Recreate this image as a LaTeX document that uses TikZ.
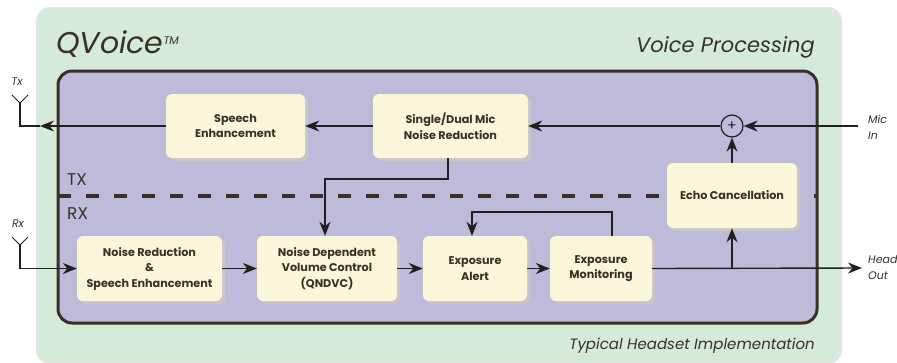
\documentclass[tikz,border=0pt]{standalone}
\usepackage{fontspec}
\setmainfont{Poppins}
\usetikzlibrary{arrows.meta,shadows}
\definecolor{greenbg}{HTML}{D4EBDA}
\definecolor{greyedge}{HTML}{E2E4E3}
\definecolor{purplebg}{HTML}{BEBBDA}
\definecolor{brownc}{HTML}{3B2F27}
\definecolor{creamc}{HTML}{FAF6DA}
\definecolor{shadc}{HTML}{C9C6C2}
\definecolor{linec}{HTML}{231F20}
\tikzset{
  blk/.style={fill=creamc, rounded corners=6pt, inner sep=0pt, align=center,
    text=brownc, font=\fontsize{11.2}{15.5}\selectfont\bfseries,
    drop shadow={shadow xshift=3pt, shadow yshift=-3pt, fill=shadc, opacity=1}},
  conn/.style={draw=linec, line width=1.4pt},
  arr/.style={conn, -{Stealth[length=14pt,width=11pt,inset=4.5pt]}},
  lbl/.style={text=brownc, font=\fontsize{11}{16}\selectfont\itshape, inner sep=0pt},
}
\begin{document}
\begin{tikzpicture}[x=1pt,y=-1pt]
\useasboundingbox (0,0) rectangle (897,362);
% outer panel
\fill[greyedge, rounded corners=14pt] (36,7) rectangle (842,364);
\fill[greenbg, rounded corners=13pt] (38,9) rectangle (838,362);
% inner panel
\draw[fill=purplebg, draw=brownc, line width=3pt, rounded corners=14pt] (58,71) rectangle (817,323);
% dashed TX/RX divider
\draw[brownc, line width=4pt, dash pattern=on 13pt off 15pt] (58,196) -- (817,196);
\node[anchor=west, text=brownc, font=\fontsize{17}{17}\selectfont, inner sep=0pt] (tx) at (67,180) {TX};
\node[anchor=west, text=brownc, font=\fontsize{17}{17}\selectfont, inner sep=0pt] (rx) at (67,214) {RX};
% titles
\node[anchor=west, text=brownc, font=\fontsize{30}{30}\selectfont\itshape, inner sep=0pt] (qv) at (56,44) {QVoice\textsuperscript{\fontsize{11}{11}\selectfont TM}};
\node[anchor=east, text=brownc, font=\fontsize{21}{21}\selectfont\itshape, inner sep=0pt] (vp) at (815,47) {Voice Processing};
\node[anchor=east, text=brownc, font=\fontsize{15}{15}\selectfont\itshape, inner sep=0pt] (th) at (815,346) {Typical Headset Implementation};
% blocks
\node[blk, minimum width=139pt, minimum height=64pt] (se) at (235.5,126) {Speech\\Enhancement};
\node[blk, minimum width=155pt, minimum height=64pt] (sdm) at (450.5,126) {Single/Dual Mic\\Noise Reduction};
\node[blk, minimum width=130pt, minimum height=65pt] (ec) at (732,195.5) {Echo Cancellation};
\node[blk, minimum width=145pt, minimum height=65pt] (nr) at (149.5,268.5) {Noise Reduction\\\&\\Speech Enhancement};
\node[blk, minimum width=140pt, minimum height=65pt] (nd) at (327,268.5) {Noise Dependent\\Volume Control\\(QNDVC)};
\node[blk, minimum width=104pt, minimum height=65pt] (ea) at (475,268.5) {Exposure\\Alert};
\node[blk, minimum width=102pt, minimum height=65pt] (em) at (601,268.5) {Exposure\\Monitoring};
% summing junction
\node[draw=linec, line width=1.2pt, circle, minimum size=22pt, inner sep=0pt, font=\fontsize{14}{14}\selectfont, text=linec] (sum) at (732,126) {+};
% external labels
\node[lbl] (txl) at (17,82) {Tx};
\node[lbl] (rxl) at (18,224) {Rx};
\node[lbl, anchor=west, align=left] (mic) at (868,127) {Mic\\In};
\node[lbl, anchor=west, align=left] (hs) at (868,267) {Headset\\Out};
% coordinates
\coordinate (micin) at (858,126);
\coordinate (txa) at (40,126);
\coordinate (txj) at (20,103);
\coordinate (rxj) at (20,245);
\coordinate (hout) at (862,268);
\coordinate (br) at (732,268);
% antennas
\draw[conn, line width=1pt] (12,95) -- (txj) -- (28,95);
\draw[conn, line width=1pt] (12,237) -- (rxj) -- (28,237);
% TX path
\draw[arr] (micin) -- (sum);
\draw[arr] (sum) -- (sdm);
\draw[arr] (sdm) -- (se);
\draw[arr] (se) -- (txa);
\draw[conn] (txa) -| (txj);
\draw[arr] (ec) -- (sum);
% cross link
\draw[arr] (sdm.south -| 448,0) |- (325,179) -- (nd.north -| 325,0);
% RX path
\draw[arr] (rxj) |- (nr.west);
\draw[arr] (nr) -- (nd);
\draw[arr] (nd) -- (ea);
\draw[arr] (ea) -- (em);
\draw[arr] (em.north -| 612,0) |- (472,212) -- (ea.north -| 472,0);
\draw[arr] (em.east) -- (hout);
\draw[arr] (br) -- (ec.south);
\end{tikzpicture}
\end{document}
